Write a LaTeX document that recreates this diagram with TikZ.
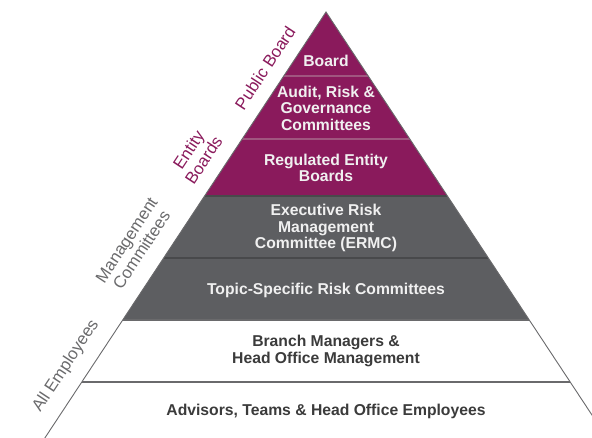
\documentclass[tikz,border=0pt]{standalone}
\usepackage{fontspec}
\setmainfont{Liberation Sans}
\begin{document}
\definecolor{plum}{HTML}{8A1A5C}
\definecolor{slate}{HTML}{5D5E61}
\definecolor{sepplum}{HTML}{A0567F}
\definecolor{sepslate}{HTML}{48494B}
\definecolor{inkgray}{HTML}{3B3B3B}
\definecolor{sidegray}{HTML}{6A6A6C}
\begin{tikzpicture}[x=1pt,y=-1pt,
  tier/.style={font=\bfseries\fontsize{15.7}{16.5}\selectfont,align=center,inner sep=0pt},
  lighttext/.style={tier,text=white!94!black},
  darktext/.style={tier,text=inkgray},
  sidelabel/.style={font=\fontsize{16.8}{18}\selectfont,align=center,inner sep=0pt,rotate=56.6},
  edge/.style={draw=sidegray,line width=0.9pt}]
\useasboundingbox (0,0) rectangle (592,438);
% half-width of the pyramid at depth y below the apex (326,12)
\def\hw#1{0.66*(#1-12)}
% tier bands
\foreach \ya/\yb/\col in {12/76/plum,76/139/plum,139/196/plum,196/258/slate,258/320/slate,320/382/white,382/438/white}{
  \path[fill=\col] ({326-\hw{\ya}},\ya) -- ({326+\hw{\ya}},\ya) -- ({326+\hw{\yb}},\yb) -- ({326-\hw{\yb}},\yb) -- cycle;
}
% separators
\foreach \y/\c in {76/sepplum,139/sepplum,196/sepslate,258/sepslate,320/sidegray,382/sidegray}{
  \draw[\c,line width=1.1pt] ({326-\hw{\y}},\y) -- ({326+\hw{\y}},\y);
}
% outline
\coordinate (apex) at (326,12);
\coordinate (bl) at ({326-\hw{438}},438);
\coordinate (br) at ({326+\hw{438}},438);
\draw[edge] (bl) -- (apex) -- (br);
% tier texts
\node[lighttext] (board) at (326,61) {Board};
\node[lighttext] (audit) at (326,108) {Audit, Risk \&\\Governance\\Committees};
\node[lighttext] (reg) at (326,168) {Regulated Entity\\Boards};
\node[lighttext] (ermc) at (326,228) {Executive Risk\\Management\\Committee (ERMC)};
\node[lighttext] (topic) at (326,290) {Topic-Specific Risk Committees};
\node[darktext] (branch) at (326,351) {Branch Managers \&\\Head Office Management};
\node[darktext] (adv) at (326,411) {Advisors, Teams \& Head Office Employees};
% side labels
\node[sidelabel,text=plum] (pub) at (265,68) {Public Board};
\node[sidelabel,text=plum] (ent) at (196,155) {Entity\\Boards};
\node[sidelabel,text=sidegray] (mgmt) at (134,245) {Management\\Committees};
\node[sidelabel,text=sidegray] (all) at (66,366) {All Employees};
\end{tikzpicture}
\end{document}
